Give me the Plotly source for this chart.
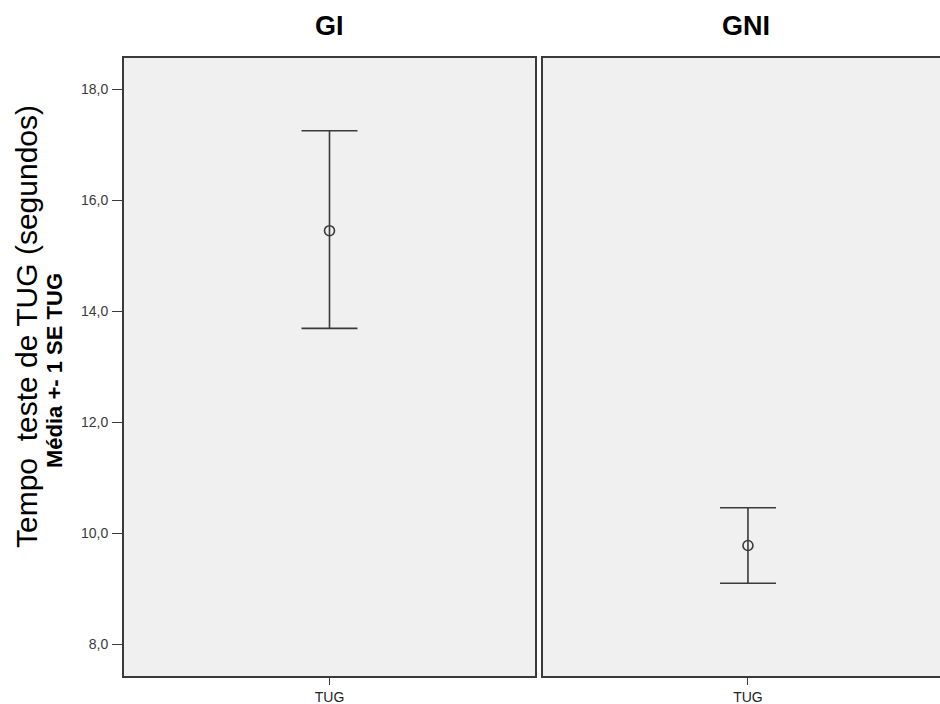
import plotly.graph_objects as go

groups = ["GI", "GNI"]
variable = ["TUG"]
means = [15.45, 9.78]
se_upper = [17.25, 10.46]
se_lower = [13.69, 9.10]
y_ticks = [8, 10, 12, 14, 16, 18]

W, H = 940, 704
L, R, T, B = 124, 0, 58, 28
pw = W - L - R
ph = H - T - B

def px_x(x):
    return (x - L) / pw

def px_y(y):
    return (H - B - y) / ph

fig = go.Figure()
line_col = "#3a3a3a"
for i, g in enumerate(groups):
    ax = "" if i == 0 else "2"
    fig.add_trace(go.Scatter(
        x=[0], y=[means[i]],
        mode="markers",
        marker=dict(symbol="circle-open", size=10, color=line_col, line=dict(width=1.6)),
        error_y=dict(type="data", symmetric=False,
                     array=[se_upper[i] - means[i]],
                     arrayminus=[means[i] - se_lower[i]],
                     color=line_col, thickness=1.6, width=28),
        xaxis="x" + ax, yaxis="y" + ax, showlegend=False, hoverinfo="skip",
    ))

yr = [7.43, 18.56]
common_y = dict(range=yr, tickvals=y_ticks, tickformat=".1f", showgrid=False, zeroline=False,
                showline=True, linecolor=line_col, linewidth=2)
xcommon = dict(tickvals=[0], ticktext=variable, ticks="outside", ticklen=7, tickcolor=line_col,
               tickfont=dict(size=14, color="#222"), showgrid=False, zeroline=False,
               showline=True, mirror=True, linecolor=line_col, linewidth=2)
fig.update_layout(
    width=W, height=H,
    margin=dict(l=L, r=R, t=T, b=B),
    paper_bgcolor="white", plot_bgcolor="#f0f0f0",
    separators=",.",
    font=dict(family="Arial, Liberation Sans", color="#333333"),
    xaxis=dict(domain=[0, px_x(535)], range=[-1, 1], **xcommon),
    xaxis2=dict(domain=[px_x(543), 1], range=[-1, 0.937], anchor="y2", **xcommon),
    yaxis=dict(**common_y, mirror=True, ticks="outside", ticklen=10, tickcolor=line_col,
               ticklabelstandoff=1, tickfont=dict(size=14, color="#3a3a3a")),
    yaxis2=dict(**common_y, mirror=False, ticks="", showticklabels=False, anchor="x2"),
)

fig.add_annotation(text="<b>GI</b>", x=px_x(329), y=px_y(26), xref="paper", yref="paper",
                   showarrow=False, font=dict(size=27, color="black"), xanchor="center", yanchor="middle")
fig.add_annotation(text="<b>GNI</b>", x=px_x(746), y=px_y(26), xref="paper", yref="paper",
                   showarrow=False, font=dict(size=27, color="black"), xanchor="center", yanchor="middle")
fig.add_annotation(text="Tempo  teste de TUG (segundos)", x=px_x(26), y=px_y(327),
                   xref="paper", yref="paper", showarrow=False, textangle=-90,
                   font=dict(size=30, color="black"), xanchor="center", yanchor="middle")
fig.add_annotation(text="<b>Média +- 1 SE TUG</b>", x=px_x(55), y=px_y(371),
                   xref="paper", yref="paper", showarrow=False, textangle=-90,
                   font=dict(size=22, color="black"), xanchor="center", yanchor="middle")

fig.write_html("out.html", config={"displayModeBar": False},
               post_script="document.body.style.margin='0';document.body.style.overflow='hidden';")
